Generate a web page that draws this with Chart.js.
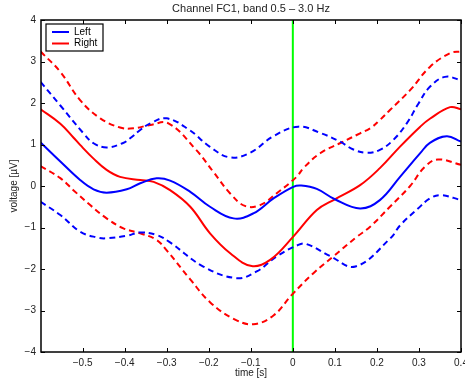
<!DOCTYPE html>
<html><head><meta charset="utf-8">
<script src="https://cdn.jsdelivr.net/npm/chart.js@4/dist/chart.umd.min.js"></script>
<style>html,body{margin:0;padding:0;background:#fff;overflow:hidden}canvas{display:block}</style>
</head><body>
<canvas id="c" width="465" height="383"></canvas>
<script>
// ---- data ----
const titleText = "Channel FC1, band 0.5 \u2013 3.0 Hz";
const xLabel = "time [s]";
const yLabel = "voltage [\u00b5V]";
const seriesNames = ["Left", "Right"];
const xTicks = [-0.5,-0.4,-0.3,-0.2,-0.1,0,0.1,0.2,0.3,0.4];
const yTicks = [-4,-3,-2,-1,0,1,2,3,4];

const leftMeanT = [-0.6,-0.553,-0.506,-0.474,-0.443,-0.395,-0.363,-0.324,-0.292,-0.244,-0.197,-0.141,-0.094,-0.046,0.001,0.02,0.057,0.1,0.16,0.207,0.255,0.303,0.326,0.366,0.4];
const leftMeanV = [1.05,0.59,0.145,-0.08,-0.16,-0.08,0.065,0.185,0.13,-0.14,-0.5,-0.78,-0.66,-0.30,-0.02,0.01,-0.07,-0.32,-0.54,-0.34,0.22,0.79,1.04,1.2,1.07];

const leftUpperT = [-0.6,-0.553,-0.498,-0.474,-0.443,-0.405,-0.387,-0.363,-0.339,-0.30,-0.246,-0.198,-0.15,-0.102,-0.046,0.013,0.065,0.112,0.144,0.176,0.207,0.239,0.271,0.299,0.326,0.362,0.4];
const leftUpperV = [2.51,1.94,1.27,1.03,0.93,1.03,1.15,1.35,1.51,1.63,1.35,0.95,0.69,0.8,1.2,1.43,1.28,1.07,0.88,0.8,0.87,1.11,1.51,1.99,2.39,2.63,2.55];

const leftLowerT = [-0.6,-0.553,-0.506,-0.466,-0.443,-0.395,-0.363,-0.324,-0.292,-0.213,-0.134,-0.086,-0.039,0.013,0.033,0.089,0.149,0.233,0.255,0.297,0.326,0.352,0.4];
const leftLowerV = [-0.38,-0.70,-1.1,-1.24,-1.26,-1.2,-1.12,-1.18,-1.36,-1.94,-2.22,-2.06,-1.70,-1.42,-1.40,-1.69,-1.94,-1.25,-0.95,-0.55,-0.3,-0.22,-0.34];

const rightMeanT = [-0.6,-0.553,-0.522,-0.506,-0.474,-0.443,-0.411,-0.363,-0.331,-0.292,-0.244,-0.197,-0.149,-0.098,-0.054,0.001,0.057,0.1,0.16,0.207,0.255,0.303,0.326,0.374,0.4];
const rightMeanV = [1.85,1.5,1.17,0.99,0.66,0.39,0.22,0.145,0.10,-0.1,-0.5,-1.14,-1.62,-1.93,-1.78,-1.22,-0.58,-0.32,0.02,0.43,0.95,1.43,1.62,1.9,1.85];

const rightUpperT = [-0.6,-0.553,-0.506,-0.458,-0.411,-0.379,-0.339,-0.296,-0.23,-0.189,-0.149,-0.114,-0.078,-0.039,0.009,0.025,0.065,0.112,0.16,0.184,0.207,0.231,0.279,0.326,0.374,0.4];
const rightUpperV = [3.24,2.75,2.07,1.63,1.41,1.39,1.47,1.51,0.87,0.34,-0.18,-0.48,-0.46,-0.18,0.22,0.43,0.79,1.03,1.27,1.39,1.59,1.83,2.31,2.87,3.2,3.24];

const rightLowerT = [-0.6,-0.553,-0.522,-0.482,-0.443,-0.403,-0.363,-0.324,-0.3,-0.244,-0.197,-0.141,-0.094,-0.046,-0.003,0.049,0.097,0.153,0.184,0.231,0.279,0.313,0.345,0.4];
const rightLowerV = [0.48,0.19,-0.1,-0.46,-0.78,-1.02,-1.14,-1.30,-1.55,-2.25,-2.8,-3.2,-3.33,-3.12,-2.63,-2.1,-1.69,-1.22,-0.98,-0.5,0.0,0.45,0.64,0.51];

const eventT = [0, 0];
const eventV = [-4, 4];

// ---- build ----
const pts = (t, v) => t.map((x, i) => ({x: x, y: v[i]}));
const BLUE = '#0000ff', RED = '#ff0000', GREEN = '#00ff00';
const FONT = '"Liberation Sans", Arial, Helvetica, sans-serif';
const fmt = v => {
  let s = (Math.abs(v) < 1e-9) ? '0' : String(Math.round(v * 10) / 10);
  return s.replace('-', '\u2212');
};
const line = (data, color, dashed) => ({
  data: data, borderColor: color, borderWidth: 2, pointRadius: 0,
  borderDash: dashed ? [6, 4] : [], tension: 0.4, fill: false
});

const frame = {
  id: 'frame',
  afterDraw(chart) {
    const ctx = chart.ctx, a = chart.chartArea;
    const xs = chart.scales.x, ys = chart.scales.y;
    ctx.save();
    ctx.strokeStyle = '#000'; ctx.lineWidth = 1;
    ctx.beginPath();
    xTicks.forEach(v => {
      const px = Math.round(xs.getPixelForValue(v)) + 0.5;
      ctx.moveTo(px, a.bottom); ctx.lineTo(px, a.bottom - 4);
      ctx.moveTo(px, a.top); ctx.lineTo(px, a.top + 4);
    });
    yTicks.forEach(v => {
      const py = Math.round(ys.getPixelForValue(v)) + 0.5;
      ctx.moveTo(a.left, py); ctx.lineTo(a.left + 4, py);
      ctx.moveTo(a.right, py); ctx.lineTo(a.right - 4, py);
    });
    ctx.stroke();
    ctx.lineWidth = 1.5;
    ctx.strokeRect(a.left, a.top, a.right - a.left, a.bottom - a.top);
    ctx.fillStyle = '#222';
    ctx.font = '11px ' + FONT;
    ctx.textAlign = 'center'; ctx.textBaseline = 'middle';
    const cx = (a.left + a.right) / 2;
    ctx.fillText(titleText, cx, 9);
    ctx.font = '10px ' + FONT;
    ctx.fillText(xLabel, cx, 373);
    ctx.save();
    ctx.translate(14, (a.top + a.bottom) / 2);
    ctx.rotate(-Math.PI / 2);
    ctx.fillText(yLabel, 0, 0);
    ctx.restore();
    const lx = a.left + 5, ly = a.top + 4, lw = 57, lh = 27;
    ctx.fillStyle = '#fff';
    ctx.fillRect(lx, ly, lw, lh);
    ctx.lineWidth = 1.2; ctx.strokeStyle = '#000';
    ctx.strokeRect(lx, ly, lw, lh);
    const cols = [BLUE, RED];
    seriesNames.forEach((n, i) => {
      const yy = ly + 8 + i * 11.5;
      ctx.strokeStyle = cols[i]; ctx.lineWidth = 2;
      ctx.beginPath(); ctx.moveTo(lx + 6, yy); ctx.lineTo(lx + 23, yy); ctx.stroke();
      ctx.fillStyle = '#000'; ctx.textAlign = 'left';
      ctx.font = '10px ' + FONT;
      ctx.fillText(n, lx + 28, yy);
    });
    ctx.restore();
  }
};

new Chart(document.getElementById('c'), {
  type: 'line',
  data: {
    datasets: [
      line(pts(leftMeanT, leftMeanV), BLUE, false),
      line(pts(rightMeanT, rightMeanV), RED, false),
      line(pts(leftUpperT, leftUpperV), BLUE, true),
      line(pts(leftLowerT, leftLowerV), BLUE, true),
      line(pts(rightUpperT, rightUpperV), RED, true),
      line(pts(rightLowerT, rightLowerV), RED, true),
      {data: pts(eventT, eventV), borderColor: GREEN, borderWidth: 2, pointRadius: 0, tension: 0}
    ]
  },
  options: {
    responsive: false, animation: false, devicePixelRatio: 1,
    layout: {padding: {top: 20, right: 4, left: 0, bottom: 0}},
    plugins: {legend: {display: false}, title: {display: false}, tooltip: {enabled: false}},
    scales: {
      x: {
        type: 'linear', min: -0.599, max: 0.4,
        grid: {display: false, drawTicks: false},
        border: {display: false},
        afterBuildTicks: s => { s.ticks = xTicks.map(v => ({value: v})); },
        afterFit: s => { s.height = 31; s.paddingLeft = 0; s.paddingRight = 0; },
        ticks: {autoSkip: false, maxRotation: 0, padding: 5, color: '#222',
          font: {size: 10, family: FONT}, callback: v => fmt(v)}
      },
      y: {
        type: 'linear', min: -4, max: 4,
        grid: {display: false, drawTicks: false},
        border: {display: false},
        afterBuildTicks: s => { s.ticks = yTicks.map(v => ({value: v})); },
        afterFit: s => { s.width = 41; s.paddingTop = 0; s.paddingBottom = 0; },
        ticks: {autoSkip: false, padding: 5, color: '#222',
          font: {size: 10, family: FONT}, callback: v => fmt(v)}
      }
    }
  },
  plugins: [frame]
});
</script>
</body></html>
